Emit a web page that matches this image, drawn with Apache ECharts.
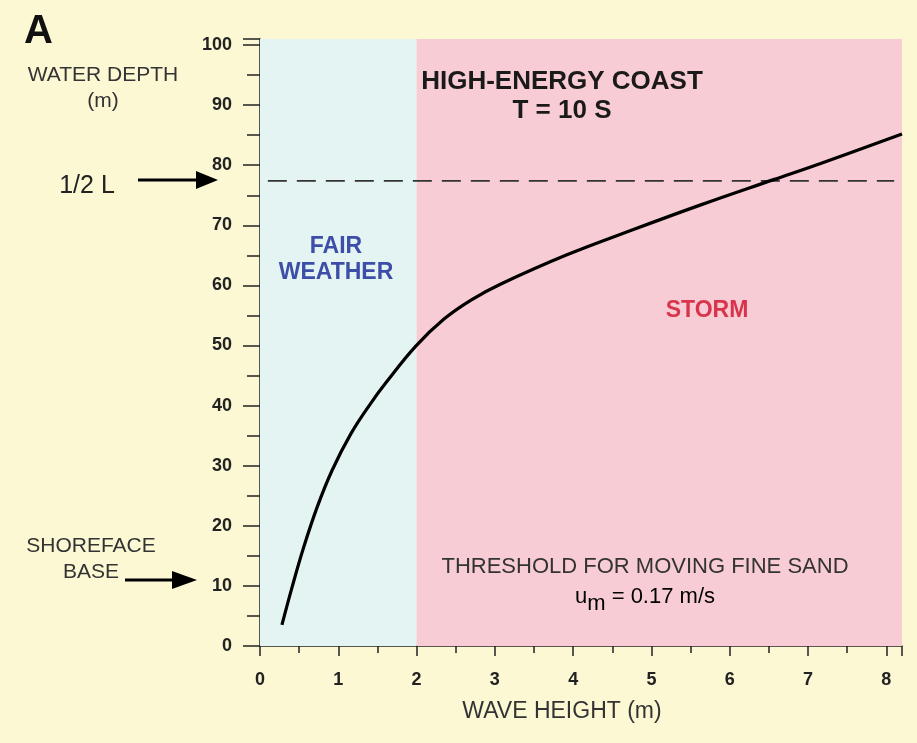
<!DOCTYPE html>
<html><head><meta charset="utf-8">
<script src="https://cdn.jsdelivr.net/npm/echarts@6/dist/echarts.min.js"></script>
<style>html,body{margin:0;padding:0;background:#fcf8d4;}#c{width:917px;height:743px;}</style>
</head><body><div id="c"></div>
<script>
// Data
const waveHeight = [0.28, 0.41, 0.56, 0.73, 0.92, 1.16, 1.41, 1.62, 1.99, 2.35, 2.7, 3.07, 3.92, 4.77, 5.63, 6.56, 7.16, 8.2];
const waterDepth = [3.5, 9.8, 16.5, 23.1, 29.2, 35.3, 40.3, 44.0, 49.9, 54.4, 57.6, 60.2, 65.1, 69.3, 73.4, 77.6, 80.3, 85.2];
const halfL = 77.4;
const halfLRange = [0.1, 8.1];
const fairRange = [0, 2];
const stormRange = [2, 8.2];
const xTicks = [0, 1, 2, 3, 4, 5, 6, 7, 8];
const yTicks = [0, 10, 20, 30, 40, 50, 60, 70, 80, 90, 100];

const FONT = '"Liberation Sans", Arial, sans-serif';
const chart = echarts.init(document.getElementById('c'));
const curve = waveHeight.map((x, i) => [x, waterDepth[i]]);

function txt(x, y, text, size, color, bold, z) {
  return { type: 'text', x: x, y: y, z: z || 10, style: {
    text: text, fontSize: size, fontFamily: FONT, fontWeight: bold ? 'bold' : 'normal',
    fill: color, align: 'center', verticalAlign: 'middle' } };
}

chart.setOption({
  backgroundColor: '#fcf8d4',
  animation: false,
  textStyle: { fontFamily: FONT },
  grid: { left: 260, right: 15, top: 39, bottom: 97 },
  xAxis: {
    type: 'value', min: 0, max: 8.2, interval: 1,
    axisLine: { lineStyle: { color: '#222', width: 1.5 } },
    axisTick: { length: 10, lineStyle: { color: '#222', width: 1.5 } },
    minorTick: { show: true, splitNumber: 2, length: 7, lineStyle: { color: '#222', width: 1.5 } },
    splitLine: { show: false },
    axisLabel: { color: '#222', fontWeight: 'bold', fontSize: 18, margin: 25, fontFamily: FONT, showMaxLabel: false,
      formatter: v => xTicks.includes(v) ? String(v) : '' }
  },
  yAxis: {
    type: 'value', min: 0, max: 101, interval: 10,
    axisLine: { show: true, lineStyle: { color: '#222', width: 1.5 } },
    axisTick: { show: true, length: 17, lineStyle: { color: '#222', width: 1.5 } },
    minorTick: { show: true, splitNumber: 2, length: 13, lineStyle: { color: '#222', width: 1.5 } },
    splitLine: { show: false },
    axisLabel: { color: '#222', fontWeight: 'bold', fontSize: 18, margin: 28, fontFamily: FONT, showMaxLabel: false,
      verticalAlign: 'middle', padding: [0, 0, 4, 0],
      formatter: v => yTicks.includes(v) ? String(v) : '' }
  },
  series: [
    {
      type: 'line', data: [], silent: true,
      markArea: {
        silent: true,
        data: [
          [{ xAxis: fairRange[0], itemStyle: { color: '#e4f4f2' } }, { xAxis: fairRange[1] }],
          [{ xAxis: stormRange[0], itemStyle: { color: '#f8ccd4' } }, { xAxis: stormRange[1] }]
        ]
      }
    },
    {
      type: 'line', data: halfLRange.map(x => [x, halfL]), symbol: 'none', z: 3,
      lineStyle: { color: '#333', width: 1.6, type: [19, 10] }
    },
    {
      type: 'line', data: curve, symbol: 'none', smooth: 0.4, z: 4,
      lineStyle: { color: '#000', width: 3.2 }
    }
  ],
  graphic: [
    { type: 'text', left: 24, top: 12, style: { text: 'A', fontSize: 40, fontWeight: 'bold', fontFamily: FONT, fill: '#111' } },
    txt(103, 75, 'WATER DEPTH', 21, '#333', false),
    txt(103, 101, '(m)', 21, '#333', false),
    txt(87, 186, '1/2 L', 25, '#222', false),
    { type: 'line', shape: { x1: 138, y1: 180, x2: 200, y2: 180 }, style: { stroke: '#000', lineWidth: 3 } },
    { type: 'polygon', shape: { points: [[196, 171], [218, 180], [196, 189]] }, style: { fill: '#000' } },
    txt(91, 546, 'SHOREFACE', 21, '#333', false),
    txt(91, 572, 'BASE', 21, '#333', false),
    { type: 'line', shape: { x1: 125, y1: 580, x2: 180, y2: 580 }, style: { stroke: '#000', lineWidth: 3 } },
    { type: 'polygon', shape: { points: [[172, 571], [197, 580], [172, 589]] }, style: { fill: '#000' } },
    txt(562, 82, 'HIGH-ENERGY COAST', 26, '#1a1a1a', true),
    txt(562, 111, 'T = 10 S', 26, '#1a1a1a', true),
    txt(336, 247, 'FAIR', 23, '#3d4ea8', true),
    txt(336, 273, 'WEATHER', 23, '#3d4ea8', true),
    txt(707, 311, 'STORM', 23, '#d8344b', true),
    txt(645, 567, 'THRESHOLD FOR MOVING FINE SAND', 22, '#333', false),
    txt(562, 712, 'WAVE HEIGHT (m)', 23, '#333', false),
    { type: 'text', x: 645, y: 597, z: 10, style: {
        text: '{u|u}{s|m}{u| = 0.17 m/s}', align: 'center', verticalAlign: 'middle',
        rich: {
          u: { fontSize: 22, fontFamily: FONT, color: '#333' },
          s: { fontSize: 22, fontFamily: FONT, color: '#333', padding: [14, 0, 0, 0] }
        } } }
  ]
});
</script></body></html>
